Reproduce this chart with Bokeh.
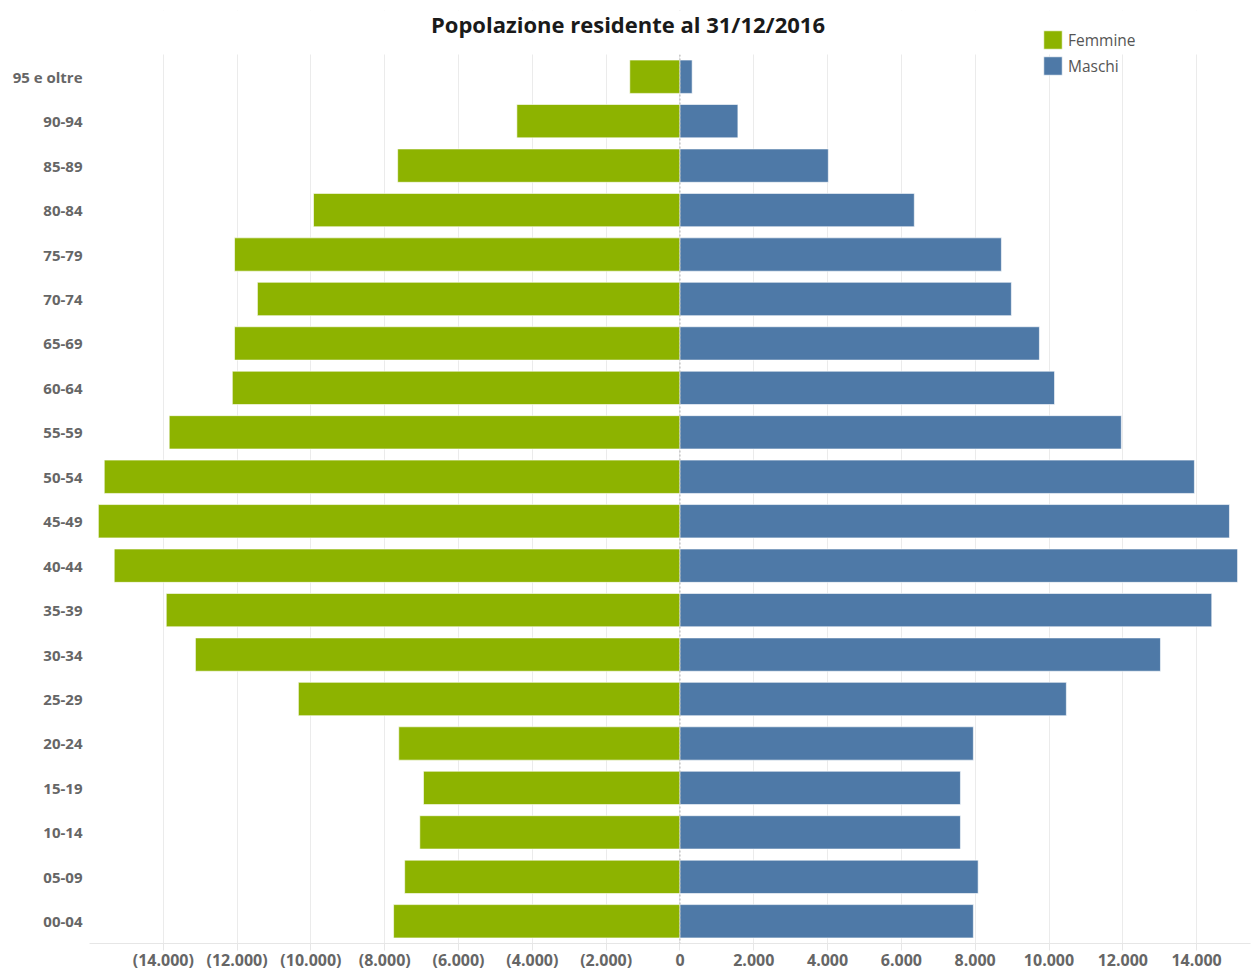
from bokeh.plotting import figure
from bokeh.models import (ColumnDataSource, Range1d, FixedTicker, Span, Legend, LegendItem,
                          Label, BoxAnnotation)
from bokeh.embed import file_html
from bokeh.resources import INLINE

age_groups = ["95 e oltre", "90-94", "85-89", "80-84", "75-79", "70-74", "65-69", "60-64",
              "55-59", "50-54", "45-49", "40-44", "35-39", "30-34", "25-29", "20-24",
              "15-19", "10-14", "05-09", "00-04"]
femmine = [1360, 4420, 7650, 9930, 12070, 11450, 12070, 12130, 13840, 15600,
           15760, 15330, 13920, 13130, 10340, 7620, 6950, 7050, 7460, 7760]
maschi = [330, 1570, 4020, 6350, 8710, 8980, 9740, 10150, 11960, 13940,
          14890, 15110, 14410, 13020, 10470, 7950, 7600, 7600, 8080, 7950]
tick_values = [-14000, -12000, -10000, -8000, -6000, -4000, -2000, 0,
               2000, 4000, 6000, 8000, 10000, 12000, 14000]
tick_labels = ["(14.000)", "(12.000)", "(10.000)", "(8.000)", "(6.000)", "(4.000)", "(2.000)", "0",
               "2.000", "4.000", "6.000", "8.000", "10.000", "12.000", "14.000"]
grid_values = [-16000] + tick_values
title_text = "Popolazione residente al 31/12/2016"

GREEN = "#8db300"
BLUE = "#4e79a7"
FONT = "Open Sans"

n = len(age_groups)
# position of each category: top group at the top
ypos = [n - 1 - i for i in range(n)]

src = ColumnDataSource(dict(
    y=ypos,
    f_left=[-v for v in femmine],
    zero=[0] * n,
    m_right=maschi,
))

# layout: frame spans 10..943 px, category band spans 54..943 px
FRAME_TOP, BAND_TOP, FRAME_BOTTOM = 10, 54, 943
px_per_cat = (FRAME_BOTTOM - BAND_TOP) / n
y_end = -0.5 + (FRAME_BOTTOM - FRAME_TOP) / px_per_cat

p = figure(width=1255, height=973,
           y_range=Range1d(-0.5, y_end),
           x_range=Range1d(-16000, 15460),
           output_backend="svg", toolbar_location=None,
           min_border_left=89, min_border_right=5, min_border_top=FRAME_TOP,
           min_border_bottom=973 - FRAME_BOTTOM)
p.title = None

rf = p.hbar(y="y", left="f_left", right="zero", height=0.75, source=src,
            fill_color=GREEN, line_color="white", line_alpha=0.6, line_width=1)
rm = p.hbar(y="y", left="zero", right="m_right", height=0.75, source=src,
            fill_color=BLUE, line_color="white", line_alpha=0.6, line_width=1)

p.add_layout(Span(location=0, dimension="height", line_color="#b0b0b0",
                  line_dash="2 2", line_width=1))

# white mask above the category band (hides grid / zero line there)
p.add_layout(BoxAnnotation(bottom=n - 0.5, fill_color="white", fill_alpha=1,
                           line_color=None))

# title centred on the whole figure
p.add_layout(Label(x=1255 / 2 - 89, y=FRAME_BOTTOM - 23, x_units="screen", y_units="screen",
                   text=title_text, text_font=FONT, text_font_size="22px",
                   text_font_style="bold", text_color="#1a1a1a",
                   text_align="center", text_baseline="middle"))

# x axis
p.xaxis.ticker = FixedTicker(ticks=tick_values)
p.xaxis.major_label_overrides = {v: l for v, l in zip(tick_values, tick_labels)}
p.xaxis.major_label_text_font = FONT
p.xaxis.major_label_text_font_style = "bold"
p.xaxis.major_label_text_font_size = "16px"
p.xaxis.major_label_text_color = "#666666"
p.xaxis.axis_line_color = "#e6e6e6"
p.xaxis.major_tick_line_color = "#e6e6e6"
p.xaxis.major_tick_out = 7
p.xaxis.major_tick_in = 0
p.xaxis.minor_tick_line_color = None
p.xaxis.major_label_standoff = -2

# y axis
p.yaxis.ticker = FixedTicker(ticks=ypos)
p.yaxis.major_label_overrides = {y: a for y, a in zip(ypos, age_groups)}
p.yaxis.axis_line_color = None
p.yaxis.major_tick_line_color = None
p.yaxis.major_tick_out = 0
p.yaxis.major_tick_in = 0
p.yaxis.minor_tick_line_color = None
p.yaxis.major_label_text_font = FONT
p.yaxis.major_label_text_font_style = "bold"
p.yaxis.major_label_text_font_size = "15px"
p.yaxis.major_label_text_color = "#666666"
p.yaxis.major_label_standoff = 7

# grids
p.xgrid.ticker = FixedTicker(ticks=grid_values)
p.xgrid.grid_line_color = "#ebebeb"
p.ygrid.grid_line_color = None
p.outline_line_color = None

legend = Legend(items=[LegendItem(label="Femmine", renderers=[rf]),
                       LegendItem(label="Maschi", renderers=[rm])],
                location=(952, 866), orientation="vertical",
                glyph_width=23, glyph_height=23, spacing=3, padding=0, margin=0,
                label_text_font=FONT, label_text_font_size="15.5px",
                label_text_color="#555555", label_standoff=4, label_height=18,
                background_fill_alpha=0, border_line_color=None)
p.add_layout(legend, "center")

open("out.html", "w").write(file_html(p, INLINE))
